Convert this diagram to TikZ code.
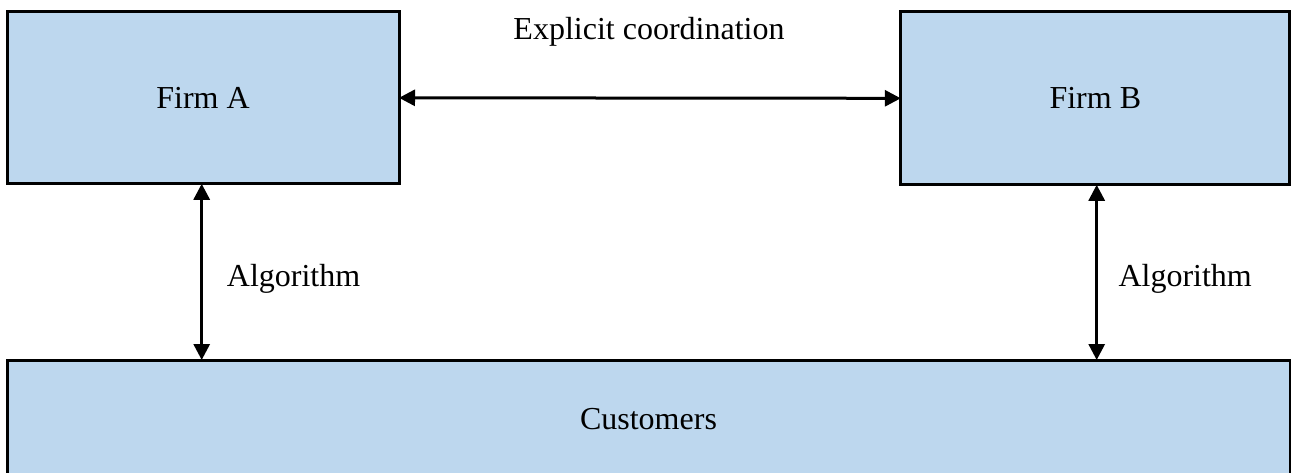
\documentclass[tikz,border=0pt]{standalone}
\usepackage{fontspec}
\setmainfont{Liberation Serif}
\usetikzlibrary{arrows.meta}
\definecolor{boxfill}{HTML}{BDD7EE}
\tikzset{
  firmbox/.style={draw=black, line width=3pt, fill=boxfill, rectangle,
    inner sep=0pt, outer sep=0pt},
  tip/.style={Triangle[length=16pt,width=16pt]},
  link/.style={line width=3pt, {Triangle[length=16pt,width=16pt]}-{Triangle[length=16pt,width=16pt]}},
  lbl/.style={inner sep=0pt, anchor=base west},
}
\begin{document}
\begin{tikzpicture}[x=1pt, y=-1pt, font=\fontsize{32}{38}\selectfont]
  \useasboundingbox (0,0) rectangle (1291,472);
  \clip (0,0) rectangle (1291,472);
  % the two firms and the customer base
  \node[firmbox, minimum width=392pt, minimum height=172pt] (A) at (203,97.8) {Firm A};
  \node[firmbox, minimum width=389pt, minimum height=173pt] (B) at (1095.3,98.3) {Firm B};
  \node[firmbox, minimum width=1283pt, minimum height=118pt] (C) at (648.5,419) {Customers};
  % connectors
  \draw[link] (A.east) -- (B.west);
  \coordinate (a1) at (201.7,0);
  \coordinate (b1) at (1096.7,0);
  \draw[link] (A.south -| a1) -- (C.north -| a1);
  \draw[link] (B.south -| b1) -- (C.north -| b1);
  % labels
  \node[inner sep=0pt, anchor=base] (ec) at (649,39) {Explicit coordination};
  \node[lbl] (la) at (226.7,286.7) {Algorithm};
  \node[lbl] (lb) at (1118.3,286.7) {Algorithm};
\end{tikzpicture}
\end{document}
